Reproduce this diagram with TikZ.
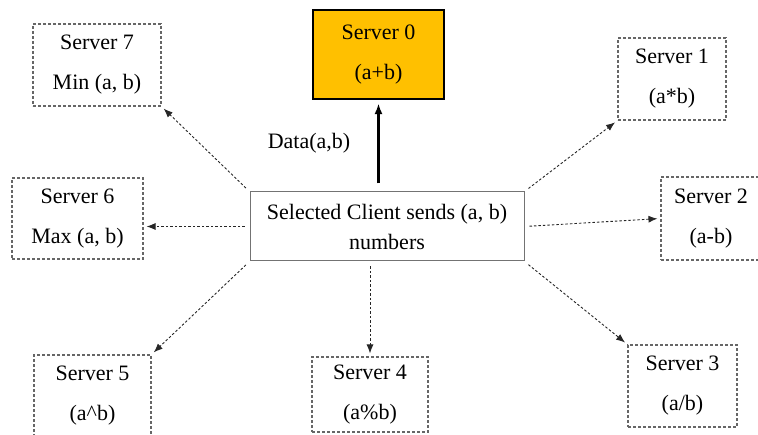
\documentclass[tikz,border=0pt]{standalone}
\usepackage{fontspec}
\setmainfont{Liberation Serif}
\usetikzlibrary{arrows.meta}
\definecolor{serverfill}{RGB}{255,192,0}
\tikzset{
  srv/.style={draw=black!60, dash pattern=on 3pt off 2pt, line width=1.1pt,
    align=center, inner sep=0pt, font=\fontsize{22}{40}\selectfont},
  mainsrv/.style={draw=black, line width=2.2pt, fill=serverfill,
    align=center, inner sep=0pt, font=\fontsize{22}{40}\selectfont},
  client/.style={draw=black!55, line width=1pt, align=center, inner sep=0pt,
    font=\fontsize{22}{30}\selectfont},
  link/.style={-{Latex[length=9pt,width=7pt]}, black!85, line width=0.9pt,
    dash pattern=on 2.5pt off 2pt, shorten <=5pt, shorten >=3pt},
  datalink/.style={-{Latex[length=11pt,width=8pt]}, line width=2.2pt, shorten <=8pt, shorten >=3pt}
}
\begin{document}
\begin{tikzpicture}[x=1pt,y=-1pt]
  \useasboundingbox (0,0) rectangle (758,435);
  \begin{scope}
    \clip (0,0) rectangle (758,435);
    % central client
    \node[client, minimum width=274pt, minimum height=69pt] (client) at (387,226.5)
      {Selected Client sends (a, b)\\numbers};
    % servers
    \node[mainsrv, minimum width=131pt, minimum height=89pt] (s0) at (378.5,54.5) {Server 0\\(a+b)};
    \node[srv, minimum width=108pt, minimum height=82pt] (s1) at (672,79) {Server 1\\(a*b)};
    \node[srv, minimum width=100pt, minimum height=83pt] (s2) at (711,218.5) {Server 2\\(a-b)};
    \node[srv, minimum width=109pt, minimum height=82pt] (s3) at (682.5,386) {Server 3\\(a/b)};
    \node[srv, minimum width=116pt, minimum height=75pt] (s4) at (370,394.5) {Server 4\\(a\%b)};
    \node[srv, minimum width=117pt, minimum height=82pt] (s5) at (92.5,396) {Server 5\\(a\textasciicircum b)};
    \node[srv, minimum width=131pt, minimum height=81pt] (s6) at (77.5,218.5) {Server 6\\Max (a, b)};
    \node[srv, minimum width=128pt, minimum height=82pt] (s7) at (97,65) {Server 7\\Min (a, b)};
    % label of the data arrow
    \node[font=\fontsize{22}{26}\selectfont] (data) at (309,143) {Data(a,b)};
  \end{scope}
  % connectors
  \draw[datalink] (client.north -| s0.south) -- (s0.south);
  \draw[link] (client.north west) -- (s7.south east);
  \draw[link] (client.north east) -- (s1.south west);
  \draw[link] (client.east) -- (s2.west);
  \draw[link] (client.south east) -- (s3.north west);
  \draw[link] (client.south -| s4.north) -- (s4.north);
  \draw[link] (client.south west) -- (s5.north east);
  \draw[link] (client.west) -- (client.west -| s6.east);
\end{tikzpicture}
\end{document}
